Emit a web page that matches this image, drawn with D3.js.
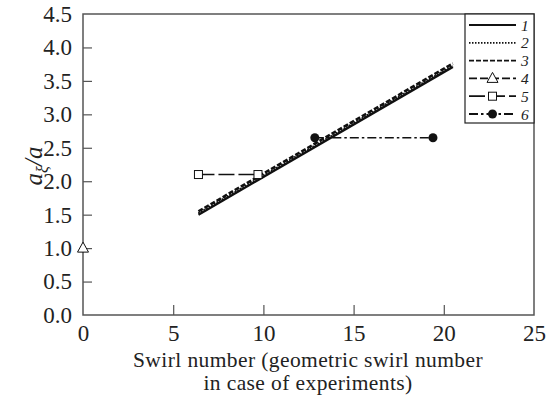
<!DOCTYPE html>
<html><head><meta charset="utf-8">
<script src="https://cdn.jsdelivr.net/npm/d3@7"></script>
<style>body{margin:0;background:#fff}svg{display:block}svg text{font-family:"Liberation Serif","Times New Roman",serif}</style>
</head><body><svg id="c" width="547" height="397"></svg>
<script>
const xTicks=[0,5,10,15,20,25];
const yTicks=[0,0.5,1,1.5,2,2.5,3,3.5,4,4.5];
const seriesNames=["1","2","3","4","5","6"];
const xTitle=["Swirl number (geometric swirl number","in case of experiments)"];
const s1=[[6.4,1.50],[20.5,3.71]];
const s2=[[6.4,1.52],[20.5,3.73]];
const s3=[[6.4,1.55],[20.5,3.76]];
const s4=[[0,1.0]];
const s5=[[6.4,2.1],[9.7,2.1]];
const s6=[[12.85,2.65],[19.4,2.65]];

const svg=d3.select("#c");
const L=83,R=534,T=14,B=315;
const x=d3.scaleLinear().domain([0,25]).range([L,R]);
const y=d3.scaleLinear().domain([0,4.5]).range([B,T]);
const axCol="#555";

svg.append("rect").attr("x",L).attr("y",T).attr("width",R-L).attr("height",B-T).attr("fill","none").attr("stroke",axCol).attr("stroke-width",1.5);

const gx=svg.append("g").attr("transform",`translate(0,${B})`).call(d3.axisBottom(x).tickValues(xTicks).tickSize(-10).tickPadding(10).tickFormat(d3.format("d")));
const gy=svg.append("g").attr("transform",`translate(${L},0)`).call(d3.axisLeft(y).tickValues(yTicks).tickSize(-9).tickPadding(11).tickFormat(d3.format(".1f")));
[gx,gy].forEach(g=>{g.attr("font-family",null);g.select(".domain").remove();g.selectAll("line").attr("stroke",axCol).attr("stroke-width",1.2);g.selectAll("text").attr("font-size",23).attr("fill","#222");});
gx.selectAll(".tick line").filter(d=>d===0||d===25).remove();
gy.selectAll(".tick line").filter(d=>d===0||d===4.5).remove();

const line=d3.line().x(d=>x(d[0])).y(d=>y(d[1]));
const styles=[
 {data:s1,dash:null,w:2.4},
 {data:s2,dash:"1.5,1.5",w:2.2},
 {data:s3,dash:"5,2",w:2.6},
 {data:s4,dash:"8,3",w:1.6},
 {data:s5,dash:"16,4",w:1.6},
 {data:s6,dash:"9,3,2.5,3",w:1.6}
];
styles.forEach(s=>{
 if(s.data.length>1) svg.append("path").attr("d",line(s.data)).attr("fill","none").attr("stroke","#111").attr("stroke-width",s.w).attr("stroke-dasharray",s.dash);
});
function tri(g,cx,cy){g.append("path").attr("d",`M${cx},${cy-6}L${cx+5.5},${cy+4}L${cx-5.5},${cy+4}Z`).attr("fill","#fff").attr("stroke","#111").attr("stroke-width",1);}
function sq(g,cx,cy){g.append("rect").attr("x",cx-4).attr("y",cy-4).attr("width",8).attr("height",8).attr("fill","#fff").attr("stroke","#111").attr("stroke-width",1);}
function circ(g,cx,cy){g.append("circle").attr("cx",cx).attr("cy",cy).attr("r",4.5).attr("fill","#111");}
s4.forEach(d=>tri(svg,x(d[0]),y(d[1])));
s5.forEach(d=>sq(svg,x(d[0]),y(d[1])));
s6.forEach(d=>circ(svg,x(d[0]),y(d[1])));

const lg=svg.append("g");
lg.append("rect").attr("x",465).attr("y",T).attr("width",R-465).attr("height",109).attr("fill","#fff").attr("stroke","#222").attr("stroke-width",1.2);
const markers=[null,null,null,tri,sq,circ];
seriesNames.forEach((n,i)=>{
 const yy=25+i*17.8;
 lg.append("line").attr("x1",469).attr("x2",516).attr("y1",yy).attr("y2",yy).attr("stroke","#111").attr("stroke-width",1.8).attr("stroke-dasharray",styles[i].dash);
 if(markers[i]) markers[i](lg,492.5,yy);
 lg.append("text").attr("x",521).attr("y",yy+5.5).attr("font-size",15.5).attr("font-style","italic").attr("fill","#222").text(n);
});

xTitle.forEach((t,i)=>{
 svg.append("text").attr("x",308).attr("y",367+i*23).attr("text-anchor","middle").attr("font-size",21.5).attr("letter-spacing",0.4).attr("fill","#222").text(t);
});
const yt=svg.append("text").attr("transform","translate(42,166) rotate(-90)").attr("text-anchor","middle").attr("font-size",25).attr("font-style","italic").attr("fill","#222");
yt.append("tspan").text("a");
yt.append("tspan").attr("font-size",16).attr("dy",6).text("ξ");
yt.append("tspan").attr("dy",-6).text("/a");
</script></body></html>
